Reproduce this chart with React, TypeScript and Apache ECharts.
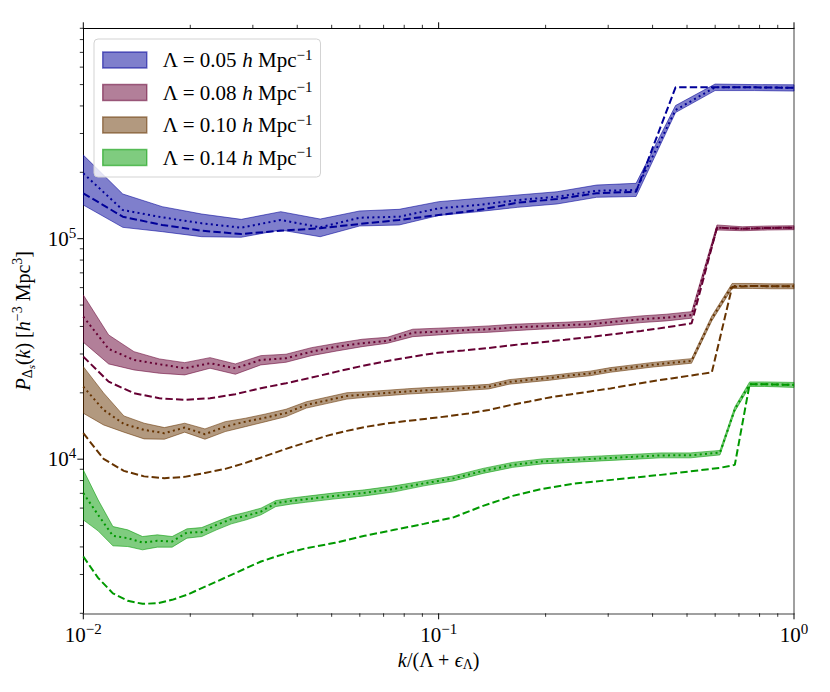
import React, { useEffect, useRef } from "react";
import * as echarts from "echarts";

// ---------- axis limits & ticks ----------
const X_MIN = 0.01;
const X_MAX = 1;
const Y_MIN = 2000;
const Y_MAX = 900000;
const X_MAJOR = [0.01, 0.1, 1];
const X_MINOR = [0.02, 0.03, 0.04, 0.05, 0.06, 0.07, 0.08, 0.09, 0.2, 0.3, 0.4, 0.5, 0.6, 0.7, 0.8, 0.9];
const Y_MAJOR = [10000, 100000];
const Y_MINOR = [
  2000, 3000, 4000, 5000, 6000, 7000, 8000, 9000,
  20000, 30000, 40000, 50000, 60000, 70000, 80000, 90000,
  200000, 300000, 400000, 500000, 600000, 700000, 800000, 900000,
];

// ---------- series meta ----------
const LAMBDAS = ["0.05", "0.08", "0.10", "0.14"];
const BASE_COLORS = ["#000099", "#660033", "#663300", "#009900"];
const FILL_COLORS = ["rgba(0,0,153,0.5)", "rgba(102,0,51,0.5)", "rgba(102,51,0,0.5)", "rgba(0,153,0,0.5)"];
const EDGE_COLORS = ["rgba(0,0,153,0.55)", "rgba(102,0,51,0.55)", "rgba(102,51,0,0.55)", "rgba(0,153,0,0.55)"];

// ---------- Lambda = 0.05 ----------
const K_005 = [0.01, 0.012915, 0.016681, 0.021544, 0.027826, 0.035938, 0.046416, 0.059948, 0.077426, 0.1, 0.12915, 0.16681, 0.21544, 0.27826, 0.35938, 0.46416, 0.59948, 0.77426, 1.0];
const UP_005 = [239500, 159500, 139700, 129400, 122400, 132600, 122800, 133600, 135900, 147200, 152400, 157800, 163300, 175100, 178300, 401700, 502800, 500000, 499000];
const LO_005 = [142200, 112600, 107600, 102100, 101500, 109500, 102100, 114200, 115400, 127400, 132600, 138800, 143700, 154100, 155400, 373400, 469700, 469700, 467300];
const MEAN_005 = [197900, 134900, 125000, 117400, 112200, 121600, 112600, 124500, 125800, 137300, 142200, 149700, 155000, 165000, 166200, 383300, 485800, 485800, 483700];
const TH_005 = [160700, 125800, 115400, 108700, 105000, 108700, 111500, 116600, 121600, 128100, 134900, 145600, 151400, 160700, 163300, 485800, 485800, 485800, 483700];

// ---------- Lambda = 0.08 ----------
const K_008 = [0.01, 0.011785, 0.013889, 0.016368, 0.01929, 0.022733, 0.026791, 0.031573, 0.037209, 0.043851, 0.051678, 0.060903, 0.071774, 0.084586, 0.099685, 0.11748, 0.13845, 0.16316, 0.19229, 0.22661, 0.26706, 0.31473, 0.37091, 0.43712, 0.51514, 0.6071, 0.71547, 0.84318, 1.0];
const UP_008 = [55560, 36600, 30740, 28490, 27410, 28880, 27040, 29490, 29930, 32050, 33560, 34990, 35730, 38860, 39270, 39680, 40220, 40940, 41370, 41800, 42380, 43590, 44640, 45440, 46690, 115400, 113300, 114200, 114500];
const LO_008 = [33920, 27040, 25400, 24540, 24110, 25850, 24280, 26760, 27520, 29490, 30960, 32390, 33560, 35950, 36600, 37250, 37640, 38270, 38860, 39270, 39680, 40640, 41630, 42380, 43590, 109500, 108700, 109500, 109900];
const MEAN_008 = [44310, 31620, 28190, 26960, 25850, 27240, 25850, 28190, 28700, 30740, 32390, 33560, 34380, 37480, 37880, 38430, 38880, 39600, 40090, 40510, 40980, 42070, 43130, 43860, 45110, 112200, 111000, 111800, 112200];
const TH_008 = [29180, 22470, 19920, 18900, 18570, 18900, 19710, 20980, 22100, 23440, 24950, 26480, 27900, 29180, 30420, 31130, 31950, 32970, 33840, 34810, 35840, 36980, 38150, 39600, 41370, 112200, 111000, 111800, 112200];

// ---------- Lambda = 0.10 ----------
const K_010 = [0.01, 0.011404, 0.013005, 0.014831, 0.016913, 0.019288, 0.021996, 0.025084, 0.028606, 0.032622, 0.037202, 0.042425, 0.048382, 0.055174, 0.062921, 0.071755, 0.081829, 0.093317, 0.10642, 0.12136, 0.1384, 0.15783, 0.17999, 0.20526, 0.23408, 0.26694, 0.30442, 0.34716, 0.3959, 0.45148, 0.51487, 0.58716, 0.66959, 0.7636, 0.87081, 1.0];
const UP_010 = [26290, 19980, 15710, 14560, 13910, 14560, 13720, 14800, 15340, 16040, 16850, 18220, 19100, 20020, 20230, 20550, 20870, 21140, 21380, 21560, 21850, 22950, 23440, 23940, 24560, 25080, 26020, 26700, 27410, 27990, 28580, 44640, 62660, 62660, 62400, 62400];
const LO_010 = [16160, 14300, 13260, 12360, 12320, 13260, 12320, 13340, 14050, 14800, 15600, 17050, 17870, 18730, 19120, 19420, 19730, 19980, 20210, 20550, 20830, 21880, 22340, 22810, 23420, 23910, 24790, 25450, 26130, 26680, 27240, 42380, 59470, 59470, 59280, 59280];
const MEAN_010 = [21340, 16730, 14450, 13580, 13120, 13910, 12980, 14050, 14800, 15440, 16210, 17630, 18470, 19360, 19670, 19980, 20290, 20550, 20790, 21050, 21340, 22410, 22880, 23370, 23990, 24490, 25400, 26070, 26760, 27330, 27900, 43500, 61040, 61040, 60850, 60850];
const TH_010 = [13120, 10030, 8850, 8357, 8202, 8314, 8666, 9037, 9621, 10350, 11140, 11920, 12760, 13440, 14050, 14530, 14920, 15280, 15660, 16130, 16730, 17540, 18280, 19060, 19670, 20290, 20940, 21720, 22520, 23250, 23990, 24740, 60410, 61040, 60850, 60850];

// ---------- Lambda = 0.14 ----------
const K_014 = [0.01, 0.011007, 0.012115, 0.013335, 0.014678, 0.016156, 0.017783, 0.019574, 0.021545, 0.023714, 0.026102, 0.028731, 0.031624, 0.034809, 0.038314, 0.042172, 0.051094, 0.061903, 0.074998, 0.090863, 0.11009, 0.13337, 0.16159, 0.19577, 0.23719, 0.28736, 0.34815, 0.4218, 0.51103, 0.61913, 0.68148, 0.75011, 0.82564, 1.0];
const UP_014 = [8943, 6539, 4948, 4781, 4458, 4538, 4458, 4831, 4897, 5213, 5533, 5751, 5996, 6492, 6656, 6782, 7035, 7259, 7568, 7973, 8401, 9084, 9672, 10030, 10190, 10350, 10510, 10680, 10680, 10960, 17260, 22410, 22410, 22290];
const LO_014 = [5307, 4731, 4046, 4016, 3881, 3991, 3991, 4384, 4458, 4781, 5089, 5307, 5591, 6097, 6252, 6371, 6607, 6817, 7109, 7568, 7973, 8621, 9181, 9521, 9672, 9824, 9979, 10140, 10140, 10460, 16470, 21380, 21380, 21160];
const MEAN_014 = [7013, 5591, 4491, 4384, 4187, 4262, 4231, 4648, 4668, 5036, 5346, 5533, 5787, 6318, 6471, 6573, 6817, 7035, 7335, 7768, 8185, 8850, 9423, 9773, 9927, 10080, 10240, 10400, 10420, 10710, 16850, 21880, 21880, 21720];
const TH_014 = [3618, 2896, 2464, 2278, 2208, 2220, 2302, 2426, 2601, 2786, 2989, 3205, 3434, 3618, 3788, 3941, 4174, 4491, 4781, 5089, 5447, 6142, 6817, 7335, 7727, 7973, 8228, 8489, 8805, 9133, 9423, 21880, 21880, 21720];

const FONT = "'Liberation Serif', 'DejaVu Serif', serif";

function legendName(i: number): string {
  return "Λ = " + LAMBDAS[i] + " h Mpc⁻¹";
}

function pow10Label(v: number): string {
  const lg = Math.log10(v);
  const e = Math.round(lg);
  if (Math.abs(lg - e) > 1e-6) return "";
  const exp = e < 0 ? "−" + Math.abs(e) : String(e);
  return "{b|10}{s|" + exp + "}";
}

const TICK_RICH = {
  b: { fontFamily: FONT, fontSize: 21, color: "#000" },
  s: { fontFamily: FONT, fontSize: 15, color: "#000", padding: [0, 0, 12, 0] },
};

const NAME_RICH = {
  r: { fontFamily: FONT, fontSize: 20, color: "#000" },
  i: { fontFamily: FONT, fontSize: 20, color: "#000", fontStyle: "italic" },
  sub: { fontFamily: FONT, fontSize: 14, color: "#000", padding: [9, 0, 0, 0] },
  ss: { fontFamily: FONT, fontSize: 11, color: "#000", fontStyle: "italic", padding: [17, 0, 0, 0] },
  sup: { fontFamily: FONT, fontSize: 14, color: "#000", padding: [0, 0, 11, 0] },
};

function buildOption() {
  const groups = [
    { k: K_005, up: UP_005, lo: LO_005, mean: MEAN_005, th: TH_005 },
    { k: K_008, up: UP_008, lo: LO_008, mean: MEAN_008, th: TH_008 },
    { k: K_010, up: UP_010, lo: LO_010, mean: MEAN_010, th: TH_010 },
    { k: K_014, up: UP_014, lo: LO_014, mean: MEAN_014, th: TH_014 },
  ];

  const series: any[] = [];
  groups.forEach((g, i) => {
    series.push({
      type: "custom",
      name: legendName(i),
      coordinateSystem: "cartesian2d",
      xAxisIndex: 0,
      yAxisIndex: 0,
      silent: true,
      clip: true,
      z: 2,
      itemStyle: { color: FILL_COLORS[i], borderColor: EDGE_COLORS[i] },
      data: [[g.k[0], g.lo[0]]],
      renderItem: (_params: any, api: any) => {
        const pts: number[][] = [];
        for (let j = 0; j < g.k.length; j++) pts.push(api.coord([g.k[j], g.up[j]]));
        for (let j = g.k.length - 1; j >= 0; j--) pts.push(api.coord([g.k[j], g.lo[j]]));
        return {
          type: "polygon",
          shape: { points: pts },
          style: { fill: FILL_COLORS[i], stroke: EDGE_COLORS[i], lineWidth: 1 },
        };
      },
    });
    series.push({
      type: "line",
      name: "mean " + LAMBDAS[i],
      xAxisIndex: 0,
      yAxisIndex: 0,
      data: g.k.map((x, j) => [x, g.mean[j]]),
      showSymbol: false,
      symbol: "none",
      silent: true,
      z: 3,
      lineStyle: { color: BASE_COLORS[i], width: 2, type: [2, 3.3] },
    });
    series.push({
      type: "line",
      name: "theory " + LAMBDAS[i],
      xAxisIndex: 0,
      yAxisIndex: 0,
      data: g.k.map((x, j) => [x, g.th[j]]),
      showSymbol: false,
      symbol: "none",
      silent: true,
      z: 3,
      lineStyle: { color: BASE_COLORS[i], width: 2, type: [7.4, 3.2] },
    });
  });

  const tickSeries = (vals: number[], side: string, len: number, width: number) => ({
    type: "custom",
    name: "ticks-" + side + len,
    coordinateSystem: "cartesian2d",
    xAxisIndex: 0,
    yAxisIndex: 0,
    silent: true,
    clip: false,
    z: 6,
    data: vals.map((v) => (side === "left" ? [X_MIN, v] : [v, side === "top" ? Y_MAX : Y_MIN])),
    renderItem: (_params: any, api: any) => {
      const p = api.coord([api.value(0), api.value(1)]);
      let shape;
      if (side === "bottom") shape = { x1: p[0], y1: p[1], x2: p[0], y2: p[1] + len };
      else if (side === "top") shape = { x1: p[0], y1: p[1], x2: p[0], y2: p[1] - len };
      else shape = { x1: p[0], y1: p[1], x2: p[0] - len, y2: p[1] };
      return { type: "line", shape, style: { stroke: "#000", lineWidth: width } };
    },
  });

  series.push(tickSeries(X_MAJOR, "bottom", 6, 1));
  series.push(tickSeries(X_MINOR, "bottom", 3.5, 0.8));
  series.push(tickSeries(X_MAJOR, "top", 6, 1));
  series.push(tickSeries(X_MINOR, "top", 3.5, 0.8));
  series.push(tickSeries(Y_MAJOR, "left", 6, 1));
  series.push(tickSeries(Y_MINOR, "left", 3.5, 0.8));

  const hiddenAxisParts = {
    axisTick: { show: false },
    splitLine: { show: false },
    minorTick: { show: false },
    minorSplitLine: { show: false },
  };

  return {
    animation: false,
    backgroundColor: "#fff",
    grid: { left: 83.3, right: 36, top: 28.3, bottom: 78.7, containLabel: false, outerBoundsMode: "none" },
    legend: {
      orient: "vertical",
      left: 94,
      top: 39,
      padding: [8, 8, 9, 8],
      itemGap: 9,
      itemWidth: 44,
      itemHeight: 16,
      borderColor: "#d3d3d3",
      borderWidth: 1,
      borderRadius: 4,
      backgroundColor: "rgba(255,255,255,0.8)",
      selectedMode: false,
      data: LAMBDAS.map((_, i) => ({
        name: legendName(i),
        icon: "rect",
        itemStyle: { color: FILL_COLORS[i], borderColor: EDGE_COLORS[i], borderWidth: 1.5 },
      })),
      formatter: (name: string) => {
        const i = LAMBDAS.findIndex((_, j) => legendName(j) === name);
        return "{lead|Λ = " + LAMBDAS[i] + " }{i|h}{r| Mpc}{sup|−1}";
      },
      textStyle: {
        fontFamily: FONT,
        fontSize: 21,
        color: "#000",
        rich: {
          lead: { fontFamily: FONT, fontSize: 21, color: "#000", padding: [0, 0, 0, 11] },
          r: { fontFamily: FONT, fontSize: 21, color: "#000" },
          i: { fontFamily: FONT, fontSize: 21, color: "#000", fontStyle: "italic" },
          sup: { fontFamily: FONT, fontSize: 15, color: "#000", padding: [0, 0, 11, 0] },
        },
      },
    },
    xAxis: [
      {
        type: "log",
        logBase: 10,
        min: X_MIN,
        max: X_MAX,
        position: "bottom",
        axisLine: { show: true, onZero: false, lineStyle: { color: "#808080", width: 1.5 } },
        axisLabel: {
          show: true,
          margin: 8,
          formatter: (v: number) => pow10Label(v),
          rich: TICK_RICH,
          fontFamily: FONT,
          fontSize: 21,
          color: "#000",
          hideOverlap: false,
        },
        name: "{i|k}{r|/(Λ + }{i|ϵ}{sub|Λ}{r|)}",
        nameLocation: "middle",
        nameGap: 29,
        nameTextStyle: { fontFamily: FONT, fontSize: 20, color: "#000", rich: NAME_RICH },
        ...hiddenAxisParts,
      },
      {
        type: "log",
        logBase: 10,
        min: X_MIN,
        max: X_MAX,
        position: "top",
        axisLine: { show: true, onZero: false, lineStyle: { color: "#000", width: 1 } },
        axisLabel: { show: false },
        ...hiddenAxisParts,
      },
    ],
    yAxis: [
      {
        type: "log",
        logBase: 10,
        min: Y_MIN,
        max: Y_MAX,
        position: "left",
        axisLine: { show: true, onZero: false, lineStyle: { color: "#000", width: 1 } },
        axisLabel: {
          show: true,
          margin: 7,
          formatter: (v: number) => pow10Label(v),
          rich: TICK_RICH,
          fontFamily: FONT,
          fontSize: 21,
          color: "#000",
          hideOverlap: false,
        },
        name: "{i|P}{sub|Δ}{ss|s}{r|(}{i|k}{r|) [}{i|h}{sup|−3}{r| Mpc}{sup|3}{r|]}",
        nameLocation: "middle",
        nameRotate: 90,
        nameGap: 38,
        nameTextStyle: { fontFamily: FONT, fontSize: 20, color: "#000", rich: NAME_RICH },
        ...hiddenAxisParts,
      },
      {
        type: "log",
        logBase: 10,
        min: Y_MIN,
        max: Y_MAX,
        position: "right",
        axisLine: { show: true, onZero: false, lineStyle: { color: "#808080", width: 1.5 } },
        axisLabel: { show: false },
        ...hiddenAxisParts,
      },
    ],
    series,
  };
}

export default function App() {
  const ref = useRef<HTMLDivElement>(null);
  useEffect(() => {
    if (!ref.current) return;
    const chart = echarts.init(ref.current, undefined, { renderer: "svg" });
    chart.setOption(buildOption() as any);
    return () => chart.dispose();
  }, []);
  return (
    <div
      ref={ref}
      style={{ position: "fixed", left: 0, top: 0, width: 830, height: 692, background: "#fff" }}
    />
  );
}
